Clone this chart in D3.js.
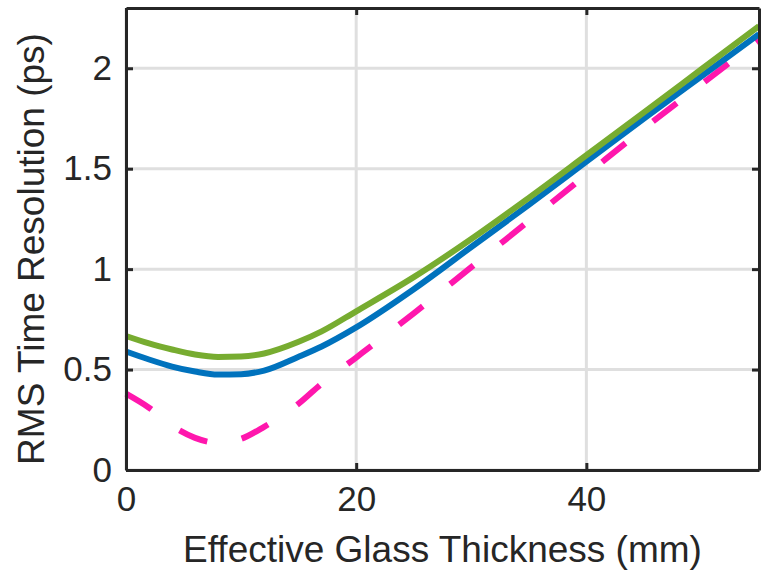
<!DOCTYPE html>
<html>
<head>
<meta charset="utf-8">
<script src="https://cdn.jsdelivr.net/npm/d3@7"></script>
<style>
  body { margin: 0; background: #fff; }
  svg { display: block; font-family: "Liberation Sans", Arial, sans-serif; }
</style>
</head>
<body>
<svg></svg>
<script>
var thickness = [0, 2, 4, 6, 8, 10, 12, 15, 17, 20, 25, 30, 35, 40, 45, 50, 55]
var greenRes  = [0.667, 0.63, 0.60, 0.575, 0.563, 0.565, 0.58, 0.638, 0.69, 0.79, 0.96, 1.15, 1.355, 1.567, 1.78, 1.995, 2.21]
var blueRes   = [0.59, 0.55, 0.515, 0.49, 0.475, 0.477, 0.495, 0.564, 0.615, 0.71, 0.90, 1.11, 1.32, 1.535, 1.75, 1.96, 2.17]
var pinkRes   = [0.38, 0.31, 0.22, 0.16, 0.135, 0.155, 0.215, 0.33, 0.43, 0.56, 0.78, 1.01, 1.24, 1.47, 1.70, 1.92, 2.14]

var xTicks = [0, 20, 40]
var yTicks = [0, 0.5, 1, 1.5, 2]
var yTickLabels = ["0", "0.5", "1", "1.5", "2"]

var screen = {width: 761, height: 570}
var margins = {top: 8, right: 2, bottom: 100, left: 126}

var width = screen.width - margins.left - margins.right
var height = screen.height - margins.top - margins.bottom

var svg = d3.select("svg")
    .attr("width", screen.width)
    .attr("height", screen.height)

var graph = svg.append("g")
    .attr("transform", "translate(" + margins.left + "," + margins.top + ")")

var xScale = d3.scaleLinear().domain([0, 55]).range([0, width])
var yScale = d3.scaleLinear().domain([0, 2.3]).range([height, 0])

// grid
graph.append("g").selectAll("line")
    .data(xTicks)
    .enter().append("line")
    .attr("x1", function(d){ return xScale(d) })
    .attr("x2", function(d){ return xScale(d) })
    .attr("y1", 0).attr("y2", height)
    .attr("stroke", "#dfdfdf").attr("stroke-width", 3)

graph.append("g").selectAll("line")
    .data(yTicks)
    .enter().append("line")
    .attr("y1", function(d){ return yScale(d) })
    .attr("y2", function(d){ return yScale(d) })
    .attr("x1", 0).attr("x2", width)
    .attr("stroke", "#dfdfdf").attr("stroke-width", 3)

// lines
var series = [
    {vals: pinkRes, color: "#ff17ad", dash: "30,35"},
    {vals: blueRes, color: "#0072bd", dash: null},
    {vals: greenRes, color: "#77ac30", dash: null}
]

var lineGenerator = d3.line()
    .x(function(d, i){ return xScale(thickness[i]) })
    .y(function(d){ return yScale(d) })
    .curve(d3.curveMonotoneX)

graph.append("g").selectAll("path")
    .data(series)
    .enter().append("path")
    .attr("d", function(s){ return lineGenerator(s.vals) })
    .attr("fill", "none")
    .attr("stroke", function(s){ return s.color })
    .attr("stroke-width", 6)
    .attr("stroke-dasharray", function(s){ return s.dash })

// axes (ticks inside, box all round)
var xAxis = d3.axisBottom(xScale).tickValues(xTicks).tickSizeInner(-7).tickSizeOuter(0).tickPadding(16)
var yAxis = d3.axisLeft(yScale).tickValues(yTicks).tickSizeInner(-7).tickSizeOuter(0).tickPadding(14)
    .tickFormat(function(d, i){ return yTickLabels[i] })
var xTop = d3.axisTop(xScale).tickValues(xTicks).tickSizeInner(-7).tickSizeOuter(0).tickFormat("")
var yRight = d3.axisRight(yScale).tickValues(yTicks).tickSizeInner(-7).tickSizeOuter(0).tickFormat("")

graph.append("g").attr("class", "axis").attr("transform", "translate(0," + height + ")").call(xAxis)
graph.append("g").attr("class", "axis").call(yAxis)
graph.append("g").attr("class", "axis").call(xTop)
graph.append("g").attr("class", "axis").attr("transform", "translate(" + width + ",0)").call(yRight)

graph.selectAll(".axis path").attr("stroke", "#262626").attr("stroke-width", 3)
graph.selectAll(".axis line").attr("stroke", "#262626").attr("stroke-width", 3)
graph.selectAll(".axis text")
    .attr("fill", "#262626")
    .style("font-size", "35px")
    .style("font-family", "'Liberation Sans', Arial, sans-serif")

// titles
svg.append("text")
    .attr("x", margins.left + width / 2)
    .attr("y", 562)
    .attr("text-anchor", "middle")
    .attr("fill", "#262626")
    .style("font-size", "37px")
    .text("Effective Glass Thickness (mm)")

svg.append("text")
    .attr("transform", "translate(44," + (margins.top + height / 2 + 10) + ") rotate(-90)")
    .attr("text-anchor", "middle")
    .attr("fill", "#262626")
    .style("font-size", "37px")
    .text("RMS Time Resolution (ps)")
</script>
</body>
</html>
